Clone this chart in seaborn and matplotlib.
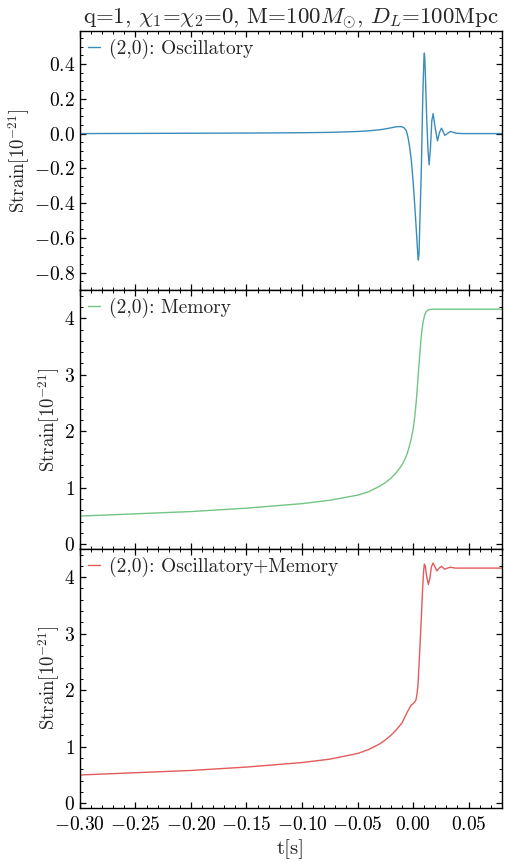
import matplotlib
matplotlib.use("Agg")
import matplotlib.pyplot as plt
from matplotlib.ticker import MultipleLocator
import seaborn as sns
import pandas as pd

# (2,0) mode, oscillatory part [1e-21]
t_osc = [-0.30, -0.25, -0.20, -0.15, -0.10, -0.075, -0.05, -0.04, -0.03, -0.025,
         -0.02, -0.016, -0.0136, -0.0106, -0.008, -0.006, -0.0045, -0.003, -0.0015, 0.0,
         0.0015, 0.003, 0.0042, 0.0048, 0.0054, 0.0060, 0.0068, 0.0075, 0.0081, 0.0087,
         0.0093, 0.0098, 0.0102, 0.0106, 0.0111, 0.0123, 0.0135, 0.0145, 0.0157, 0.0169,
         0.0181, 0.0199, 0.0220, 0.0238, 0.0256, 0.0286, 0.0337, 0.039, 0.045, 0.06, 0.08]
h_osc = [0.000, 0.001, 0.002, 0.003, 0.005, 0.007, 0.012, 0.016, 0.022, 0.027,
         0.033, 0.038, 0.040, 0.040, 0.033, 0.016, -0.023, -0.080, -0.157, -0.270,
         -0.410, -0.560, -0.690, -0.728, -0.690, -0.540, -0.360, -0.200, 0.000, 0.190,
         0.330, 0.430, 0.463, 0.430, 0.340, 0.090, -0.100, -0.180, -0.080, 0.073,
         0.115, 0.035, -0.042, 0.006, 0.031, -0.010, 0.012, 0.002, 0.000, 0.000, 0.000]

# (2,0) mode, memory part [1e-21]
t_mem = [-0.30, -0.25, -0.20, -0.15, -0.10, -0.075, -0.05, -0.04, -0.035, -0.03,
         -0.025, -0.02, -0.015, -0.01, -0.007, -0.005, -0.003, -0.0015, 0.0, 0.0015,
         0.003, 0.0045, 0.006, 0.0075, 0.009, 0.0105, 0.012, 0.014, 0.017, 0.025,
         0.04, 0.08]
h_mem = [0.50, 0.54, 0.58, 0.64, 0.72, 0.78, 0.87, 0.93, 0.98, 1.03,
         1.09, 1.17, 1.27, 1.40, 1.52, 1.62, 1.76, 1.88, 2.03, 2.25,
         2.55, 2.95, 3.35, 3.70, 3.93, 4.06, 4.12, 4.15, 4.16, 4.16,
         4.16, 4.16]

# (2,0) mode, oscillatory + memory [1e-21]
t_tot = [-0.30, -0.25, -0.20, -0.15, -0.10, -0.075, -0.05, -0.04, -0.03, -0.025,
         -0.02, -0.015, -0.01, -0.007, -0.005, -0.003, -0.0015, 0.0, 0.0015, 0.0025,
         0.0035, 0.0045, 0.006, 0.0075, 0.0085, 0.0095, 0.0102, 0.0110, 0.0122, 0.0138,
         0.0152, 0.0165, 0.0180, 0.0198, 0.0214, 0.0235, 0.0256, 0.0286, 0.0310, 0.0337,
         0.038, 0.05, 0.08]
h_tot = [0.50, 0.54, 0.58, 0.64, 0.72, 0.78, 0.88, 0.95, 1.05, 1.12,
         1.20, 1.30, 1.42, 1.54, 1.62, 1.69, 1.74, 1.76, 1.79, 1.82,
         1.92, 2.10, 2.68, 3.30, 3.75, 4.10, 4.23, 4.20, 4.02, 3.87,
         3.98, 4.18, 4.25, 4.18, 4.11, 4.16, 4.19, 4.14, 4.16, 4.175,
         4.16, 4.16, 4.16]

labels = ["(2,0): Oscillatory", "(2,0): Memory", "(2,0): Oscillatory+Memory"]
colors = ["#3a8dbb", "#72c585", "#e35b5b"]
series = [(t_osc, h_osc), (t_mem, h_mem), (t_tot, h_tot)]
ylims = [(-0.9, 0.59), (-0.08, 4.5), (-0.08, 4.5)]

sns.set_theme(style="ticks")
plt.rcParams.update({
    "font.family": "serif",
    "font.serif": ["cmr10"],
    "mathtext.fontset": "cm",
    "axes.formatter.use_mathtext": True,
    "axes.unicode_minus": True,
    "axes.edgecolor": "black",
    "axes.linewidth": 1.0,
    "xtick.direction": "in",
    "ytick.direction": "in",
    "xtick.top": True,
    "ytick.right": True,
    "xtick.color": "black",
    "ytick.color": "black",
})

fig, axes = plt.subplots(3, 1, figsize=(5.09, 8.63), dpi=100, sharex=True,
                         gridspec_kw=dict(hspace=0))
fig.subplots_adjust(left=0.157, right=0.986, top=0.964, bottom=0.064)

for ax, (t, h), lab, col, yl in zip(axes, series, labels, colors, ylims):
    df = pd.DataFrame({"t": t, "h": h})
    sns.lineplot(data=df, x="t", y="h", ax=ax, color=col, lw=1.0, label=lab)
    ax.set_ylim(*yl)
    ax.set_xlim(-0.30, 0.08)
    ax.set_ylabel(r"Strain[$10^{-21}$]", fontsize=13.5, labelpad=1.5)
    ax.set_xlabel("")
    ax.xaxis.set_major_locator(MultipleLocator(0.05))
    ax.xaxis.set_minor_locator(MultipleLocator(0.01))
    ax.tick_params(which="both", direction="in", top=True, right=True, labelsize=14)
    ax.tick_params(axis="x", which="major", pad=6)
    ax.tick_params(which="major", length=4.5, width=0.9)
    ax.tick_params(which="minor", length=2.2, width=0.7)
    ax.legend(loc="upper left", frameon=False, fontsize=14, handlelength=0.65,
              handletextpad=0.45, borderaxespad=0.1, borderpad=0.3)

axes[0].yaxis.set_major_locator(MultipleLocator(0.2))
axes[0].yaxis.set_minor_locator(MultipleLocator(0.05))
for ax in axes[1:]:
    ax.yaxis.set_major_locator(MultipleLocator(1))
    ax.yaxis.set_minor_locator(MultipleLocator(0.2))

axes[0].set_title(r"q=1, $\chi_1$=$\chi_2$=0, M=100$M_{\odot}$, $D_L$=100Mpc",
                  fontsize=16.5, pad=2)
axes[2].set_xlabel("t[s]", fontsize=15, labelpad=4)

fig.savefig("out.png", dpi=100)
